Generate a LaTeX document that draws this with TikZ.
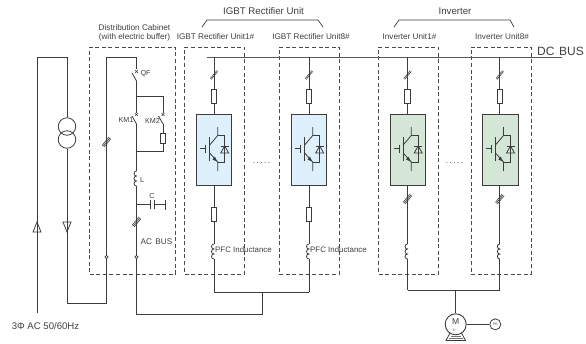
\documentclass[tikz,border=0pt]{standalone}
\usepackage{fontspec}
\setmainfont{Liberation Sans}
\definecolor{ln}{HTML}{3C3C3C}
\definecolor{txt}{HTML}{404040}
\definecolor{dashc}{HTML}{4A4A4A}
\definecolor{blueb}{HTML}{DDF0FB}
\definecolor{greenb}{HTML}{D4E6D6}
\tikzset{
  wire/.style={draw=ln,line width=0.8pt},
  dashbox/.style={draw=dashc,line width=0.9pt,dash pattern=on 4pt off 2.6pt,inner sep=0pt,minimum height=227pt},
  module/.style={draw=ln,line width=0.9pt,inner sep=0pt,minimum width=35.6pt,minimum height=71.3pt},
  fuse/.style={draw=ln,line width=0.7pt,fill=white,inner sep=0pt,minimum width=5.6pt,minimum height=14pt},
  lbl/.style={text=txt,font=\fontsize{8.2}{9}\selectfont,inner sep=0pt},
  sml/.style={text=txt,font=\fontsize{7.2}{8}\selectfont,inner sep=0pt},
  pfc/.style={text=txt,font=\fontsize{7.9}{9}\selectfont,inner sep=0pt},
  big/.style={text=txt,font=\fontsize{9.7}{11}\selectfont,inner sep=0pt},
  term/.style={circle,draw=ln,line width=0.6pt,fill=white,inner sep=0pt,minimum size=3.2pt},
  igbt/.pic={
    \draw[wire] (-14,148.7) -- (-8.5,148.7);
    \draw[wire] (-8.5,144.5) -- (-8.5,153);
    \draw[wire] (-4.3,137) -- (-4.3,161);
    \draw[wire] (-4.3,145) -- (3.7,135.5) -- (3.7,127);
    \draw[wire] (-4.3,153) -- (3.7,162) -- (3.7,171);
    \fill[ln] (3.2,161.5) -- (-1.5,159.6) -- (0.9,156.6) -- cycle;
    \draw[wire] (3.7,135.5) -- (10.7,135.5) -- (10.7,162) -- (3.7,162);
    \draw[wire] (6.7,146) -- (14.7,146);
    \draw[wire,fill=none] (10.7,146) -- (6.7,153) -- (14.7,153) -- cycle;
  },
  coil/.pic={
    \draw[wire] (0,0) arc[start angle=90,end angle=270,radius=2.5pt]
      arc[start angle=90,end angle=270,radius=2.5pt]
      arc[start angle=90,end angle=270,radius=2.5pt];
  },
  dbl/.pic={
    \draw[wire,line width=0.6pt] (-3.8,3.6) -- (2.8,-4.4);
    \draw[wire,line width=0.6pt] (-2.8,4.4) -- (3.8,-3.6);
  },
  tpl/.pic={
    \draw[wire,line width=0.6pt] (-4.4,3.4) -- (2.4,-5);
    \draw[wire,line width=0.6pt] (-3.4,4.2) -- (3.4,-4.2);
    \draw[wire,line width=0.6pt] (-2.4,5) -- (4.4,-3.4);
  },
  sw/.pic={
    \draw[wire] (0,0) -- (-4.5,-8);
    \draw[wire,line width=0.6pt] (-1.5,-11) -- (1.5,-8) (-1.5,-8) -- (1.5,-11);
  },
}
\begin{document}
\begin{tikzpicture}[x=1pt,y=-1pt]
\useasboundingbox[fill=white] (0,0) rectangle (586,343);

% dashed enclosures
\node[dashbox,minimum width=86pt] (cab) at (132.5,160.5) {};
\foreach \n/\x/\w in {r1/214.5/60,r8/309.2/60,i1/408.5/60,i8/501/60}
  \node[dashbox,minimum width=\w pt] (box\n) at (\x,160.5) {};

% DC bus
\coordinate (dcL) at (207,57);
\coordinate (dcR) at (562,57);
\draw[wire,line width=1pt,draw=ln!85] (dcL) -- (dcR);

% rectifier units
\foreach \n/\x in {r1/214,r8/309}{
  \node[module,fill=blueb] (m\n) at (\x,149.6) {};
  \node[fuse] (fa\n) at (\x,96.5) {};
  \node[fuse] (fb\n) at (\x,214) {};
  \coordinate (top\n) at (\x,57);
  \coordinate (ct\n) at (\x,244);
  \coordinate (cb\n) at (\x,259);
  \coordinate (bt\n) at (\x,292);
  \draw[wire] (top\n) -- (fa\n.north);
  \draw[wire] (fa\n.south) -- (m\n.north);
  \draw[wire] (m\n.south) -- (fb\n.north);
  \draw[wire] (fb\n.south) -- (ct\n);
  \draw[wire] (cb\n) -- (bt\n);
  \path (\x,0) pic {igbt};
  \path (ct\n) pic {coil};
  \path (\x,75) pic {dbl};
}
% inverter units
\foreach \n/\x in {i1/407.5,i8/499.8}{
  \node[module,fill=greenb] (m\n) at (\x+0.5,149.6) {};
  \node[fuse] (fa\n) at (\x,96.5) {};
  \coordinate (top\n) at (\x,57);
  \coordinate (ct\n) at (\x,244);
  \coordinate (cb\n) at (\x,259);
  \coordinate (bt\n) at (\x,290);
  \draw[wire] (top\n) -- (fa\n.north);
  \draw[wire] (fa\n.south) -- (\x,114);
  \draw[wire] (\x,185) -- (ct\n);
  \draw[wire] (cb\n) -- (bt\n);
  \path (\x,0) pic {igbt};
  \path (ct\n) pic {coil};
  \path (\x,75) pic {dbl};
  \path (\x,199) pic {tpl};
}

% buses under the units
\coordinate (rj) at (262.5,292);
\coordinate (ij) at (455.7,290);
\draw[wire] (btr1) -- (btr8);
\draw[wire] (bti1) -- (bti8);

% motor and encoder
\node[circle,draw=ln,line width=0.9pt,fill=white,inner sep=0pt,minimum size=21pt] (motor) at (455.7,324.3) {};
\node[circle,draw=ln,line width=0.8pt,fill=white,inner sep=0pt,minimum size=11pt,text=txt,font=\fontsize{3.5}{4}\selectfont] (enc) at (495.3,324.3) {PG};
\draw[wire] (ij) -- (motor.north);
\draw[wire] (motor.east) -- (enc.west);
\node[text=txt,font=\fontsize{8.5}{9}\selectfont,inner sep=0pt] (mm) at (455.7,322) {M};
\node[text=txt,font=\fontsize{3.5}{4}\selectfont,inner sep=0pt] (m3) at (454.5,330.2) {3\textasciitilde};
\draw[wire] (450,333) -- (446,340.5) -- (465.5,340.5) -- (461.5,333);
\draw[wire,line width=0.9pt,draw=ln!70] (451,336.5) -- (460.5,336.5);
\draw[wire,line width=0.9pt,draw=ln!70] (449,338.8) -- (462.5,338.8);

% AC input
\coordinate (inB) at (37,313);
\coordinate (inT) at (37,57);
\coordinate (xT) at (67,57);
\coordinate (xB) at (67,303);
\coordinate (cabB) at (106.5,303);
\coordinate (cabT) at (106.5,57);
\coordinate (mainT) at (136.5,57);
\node[circle,draw=ln,line width=0.8pt,inner sep=0pt,minimum size=17.5pt] (t1) at (67,126.5) {};
\node[circle,draw=ln,line width=0.8pt,inner sep=0pt,minimum size=17.5pt] (t2) at (67,139.5) {};
\draw[wire] (inB) -- (inT) -- (xT) -- (t1.north);
\draw[wire] (t2.south) -- (xB) -- (cabB) -- (cabT) -- (mainT);
\draw[wire,fill=none] (37,222) -- (33,232) -- (41,232) -- cycle;
\draw[wire,fill=none] (67,232) -- (63,222) -- (71,222) -- cycle;
\path (106.5,142) pic {tpl};

% main circuit
\coordinate (sw1) at (136.5,81);
\coordinate (brT) at (136.5,96);
\coordinate (km1) at (136.5,124);
\coordinate (km2) at (163,124);
\coordinate (brB) at (136.5,151);
\coordinate (brTr) at (163,96);
\coordinate (brBr) at (163,151);
\node[fuse,minimum height=10pt,minimum width=5pt] (res) at (163,138) {};
\coordinate (lt) at (136.5,171);
\coordinate (lb) at (136.5,186);
\coordinate (capJ) at (136.5,204.5);
\node[term] (d1) at (106.5,257) {};
\node[term] (d2) at (136.5,257) {};
\coordinate (acB) at (136.5,314);
\coordinate (acR) at (262.5,314);
\draw[wire] (mainT) -- (136.5,69);
\draw[wire] (sw1) -- (brT) -- (136.5,113);
\draw[wire] (km1) -- (brB) -- (lt);
\draw[wire] (lb) -- (d2);
\draw[wire] (d2) -- (acB) -- (acR) -- (rj);
\draw[wire] (brT) -- (brTr) -- (163,113);
\draw[wire] (km2) -- (res.north);
\draw[wire] (res.south) -- (brBr) -- (brB);
\path (sw1) pic {sw};
\path (km1) pic {sw};
\path (km2) pic {sw};
\path (lt) pic {coil};
\path (136.5,222) pic {tpl};
\coordinate (capE) at (165.5,204.5);
\draw[wire] (capJ) -- (150.7,204.5);
\draw[wire] (154,204.5) -- (capE);
\draw[wire] (150.7,200) -- (150.7,209);
\draw[wire] (154,200) -- (154,209);
\draw[wire] (capE |- 0,199.5) -- (capE |- 0,209.5);

% braces
\draw[wire,line width=0.7pt] (202,27) -- (207,20) -- (318,20) -- (323,27);
\draw[wire,line width=0.7pt] (394,27) -- (399,20) -- (510,20) -- (514,27);

% labels
\node[big] (tr) at (263.5,11) {IGBT Rectifier Unit};
\node[big] (ti) at (455,11) {Inverter};
\node[lbl,align=center] (tc) at (134.5,32.5) {Distribution Cabinet\\(with electric buffer)};
\node[lbl] (u1) at (215.5,36.5) {IGBT Rectifier Unit1\#};
\node[lbl] (u8) at (311,36.5) {IGBT Rectifier Unit8\#};
\node[lbl] (v1) at (409.5,36.5) {Inverter Unit1\#};
\node[lbl] (v8) at (502,36.5) {Inverter Unit8\#};
\node[text=txt,font=\fontsize{12}{13}\selectfont,inner sep=0pt] (dc) at (560.5,51) {DC\hspace{1.5pt} BUS};
\node[sml] (qf) at (145.5,74) {QF};
\node[sml] (k1) at (126,120.5) {KM1};
\node[sml] (k2) at (152.5,120.5) {KM2};
\node[sml] (ll) at (142,180.5) {L};
\node[sml] (cc) at (152,196) {C};
\node[lbl] (ac) at (156.5,242) {AC\hspace{1pt} BUS};
\node[pfc] (p1) at (243.5,250) {PFC Inductance};
\node[pfc] (p8) at (338.5,250) {PFC Inductance};
\node[text=txt,font=\fontsize{9.6}{11}\selectfont,inner sep=0pt] (ai) at (45.5,326) {3Φ AC 50/60Hz};
\node[lbl] (dr) at (261.5,163) {\addfontfeature{LetterSpace=18}.....};
\node[lbl] (di) at (454.5,163) {\addfontfeature{LetterSpace=18}.....};
\end{tikzpicture}
\end{document}
